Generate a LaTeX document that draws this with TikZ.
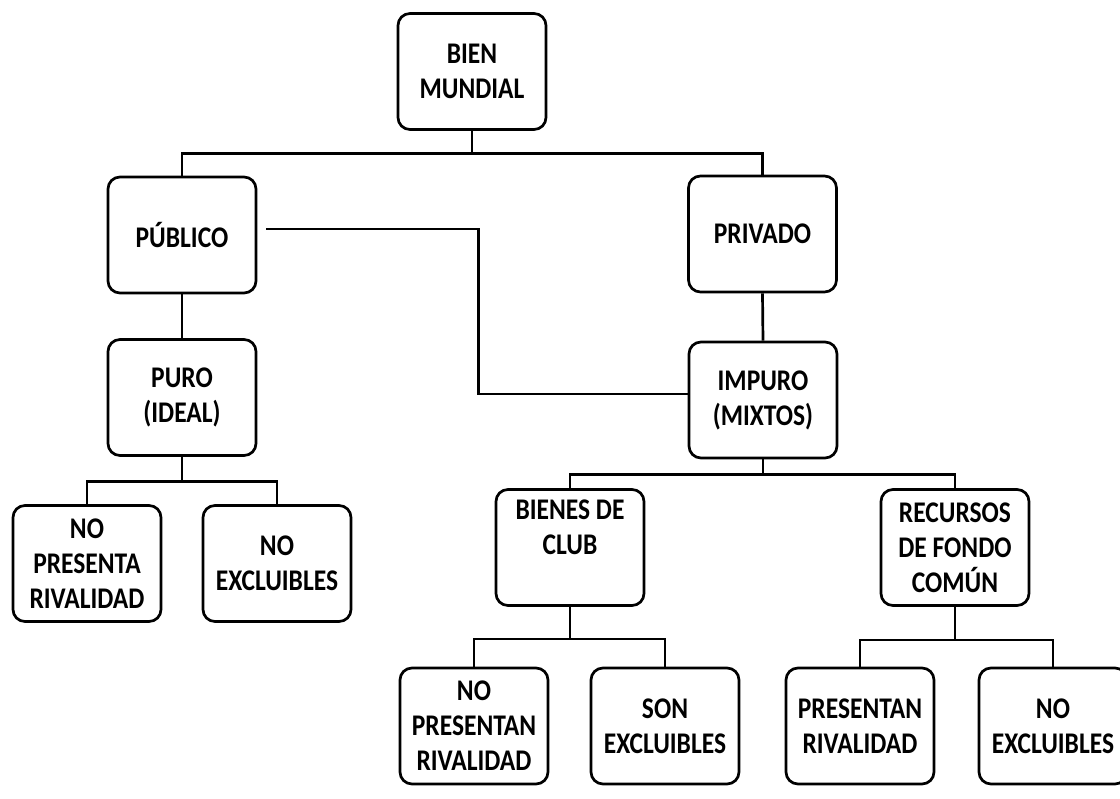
\documentclass[tikz,border=0pt]{standalone}
\usepackage{fontspec}
\newfontfamily\calfont[FakeStretch=0.85]{Carlito}
\tikzset{
  box/.style={draw=black, line width=2.7pt, rounded corners=12pt, fill=white,
    minimum width=148pt, minimum height=116pt, inner sep=0pt, align=center,
    font=\calfont\bfseries\fontsize{30}{35}\selectfont},
  conn/.style={draw=black, line width=2.7pt}
}
\begin{document}
\begin{tikzpicture}[x=1pt,y=-1pt]
\useasboundingbox (0,0) rectangle (1120,799);
\clip (0,0) rectangle (1120,799);
\fill[white] (0,0) rectangle (1120,799);
\node[box] (bien) at (472,71.5) {BIEN\\MUNDIAL};
\node[box] (pub) at (182,235) {PÚBLICO};
\node[box] (priv) at (762.5,234) {PRIVADO};
\node[box] (puro) at (182,397.5) {PURO\\(IDEAL)};
\node[box] (impuro) at (763,400) {IMPURO\\(MIXTOS)};
\node[box] (nopr) at (87,563.5) {NO\\PRESENTA\\RIVALIDAD};
\node[box] (noex1) at (277,563.5) {NO\\EXCLUIBLES};
\node[box] (club) at (570,547.5) {BIENES DE\\CLUB\\[-4pt]\strut};
\node[box] (rec) at (955,547.5) {RECURSOS\\DE FONDO\\COMÚN};
\node[box] (nopres) at (474,726) {NO\\PRESENTAN\\RIVALIDAD};
\node[box] (son) at (665,726) {SON\\EXCLUIBLES};
\node[box] (pres) at (860,726) {PRESENTAN\\RIVALIDAD};
\node[box] (noex2) at (1053,726) {NO\\EXCLUIBLES};
% connectors
\draw[conn] (bien.south) -- ++(0,23) coordinate (j1);
\draw[conn] (pub.north) |- (j1) -| (priv.north);
\draw[conn] (pub.south) -- (puro.north);
\draw[conn] (priv.south) -- (impuro.north);
\draw[conn] ([xshift=9pt,yshift=6pt]pub.east) -- ++(212,0) |- ([yshift=6pt]impuro.west);
\draw[conn] (puro.south) -- ++(0,25) coordinate (j2);
\draw[conn] (nopr.north) |- (j2) -| (noex1.north);
\draw[conn] (impuro.south) -- ++(0,15) coordinate (j3);
\draw[conn] (club.north) |- (j3) -| (rec.north);
\draw[conn] (club.south) -- ++(0,32) coordinate (j4);
\draw[conn] (nopres.north) |- (j4) -| (son.north);
\draw[conn] (rec.south) -- ++(0,33) coordinate (j5);
\draw[conn] (pres.north) |- (j5) -| (noex2.north);
\end{tikzpicture}
\end{document}
